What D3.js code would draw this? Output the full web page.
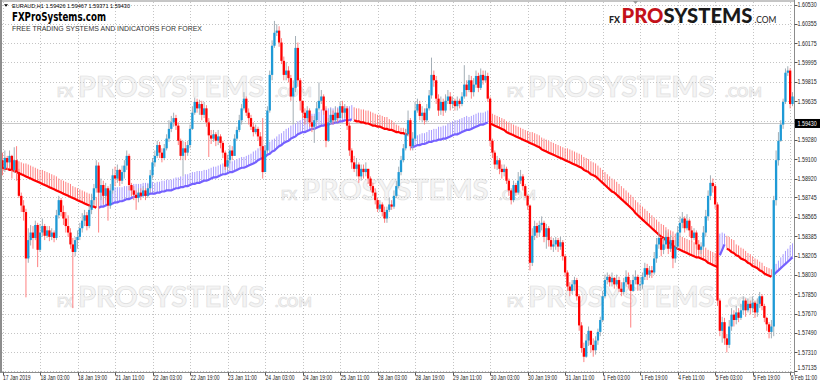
<!DOCTYPE html>
<html>
<head>
<meta charset="utf-8">
<script src="https://cdn.jsdelivr.net/npm/d3@7"></script>
<style>
  body { margin: 0; background: #fff; }
  svg { display: block; }
</style>
</head>
<body>
<script>
const width = 820;
const height = 385;

// header of the MT4 window
const symbol = 'EURAUD,H1';
const lastQuote = ['1.59426', '1.59467', '1.59371', '1.59430'];
const currentPrice = 1.59430;

// price axis labels (right) and time axis labels (bottom, one every 16 bars)
const priceTicks = [1.60530, 1.60355, 1.60175, 1.59995, 1.59815, 1.59635, 1.59455, 1.59280, 1.59100, 1.58920,
  1.58745, 1.58565, 1.58385, 1.58205, 1.58030, 1.57850, 1.57670, 1.57490, 1.57310, 1.57135];
const timeLabels = ['17 Jan 2019', '18 Jan 03:00', '18 Jan 19:00', '21 Jan 11:00', '22 Jan 03:00', '22 Jan 19:00',
  '23 Jan 11:00', '24 Jan 03:00', '24 Jan 19:00', '25 Jan 11:00', '28 Jan 03:00', '28 Jan 19:00', '29 Jan 11:00',
  '30 Jan 03:00', '30 Jan 19:00', '31 Jan 11:00', '1 Feb 03:00', '1 Feb 19:00', '4 Feb 11:00', '5 Feb 03:00',
  '5 Feb 19:00', '6 Feb 11:00'];
const barsPerLabel = 16;

// H1 candles, 17 Jan 11:00 .. 6 Feb 13:00 (open = previous close)
const firstOpen = 1.5909;
const closes = [
  1.5901,1.5911,1.5907,1.5913,1.5900,1.5909,1.5898,1.5876,1.5867,1.5861,1.5818,1.5835,1.5842,1.5837,1.5849,1.5826,
  1.5842,1.5848,1.5839,1.5844,1.5838,1.5842,1.5837,1.5858,1.5872,1.5861,1.5855,1.5848,1.5842,1.5831,1.5824,1.5835,
  1.5838,1.5846,1.5853,1.5858,1.5848,1.5863,1.5872,1.5883,1.5904,1.5879,1.5886,1.5876,1.5883,1.5867,1.5881,1.5895,
  1.5892,1.5900,1.5890,1.5898,1.5904,1.5913,1.5886,1.5881,1.5877,1.5874,1.5879,1.5876,1.5881,1.5876,1.5883,1.5895,
  1.5907,1.5913,1.5923,1.5916,1.5911,1.5920,1.5929,1.5938,1.5944,1.5948,1.5941,1.5927,1.5913,1.5920,1.5916,1.5923,
  1.5938,1.5953,1.5963,1.5957,1.5961,1.5951,1.5957,1.5944,1.5932,1.5929,1.5933,1.5927,1.5931,1.5925,1.5916,1.5903,
  1.5909,1.5918,1.5913,1.5929,1.5937,1.5946,1.5957,1.5966,1.5953,1.5948,1.5940,1.5935,1.5938,1.5931,1.5922,1.5898,
  1.5918,1.5955,1.5988,1.6015,1.6027,1.6029,1.6018,1.6001,1.5988,1.5992,1.5985,1.5968,1.5976,1.6013,1.5983,1.5964,
  1.5953,1.5948,1.5955,1.5944,1.5940,1.5946,1.5957,1.5964,1.5968,1.5955,1.5927,1.5944,1.5951,1.5946,1.5953,1.5948,
  1.5959,1.5953,1.5957,1.5941,1.5918,1.5907,1.5901,1.5905,1.5894,1.5901,1.5898,1.5901,1.5892,1.5885,1.5879,1.5872,
  1.5864,1.5868,1.5861,1.5855,1.5863,1.5868,1.5866,1.5876,1.5885,1.5898,1.5909,1.5920,1.5933,1.5946,1.5922,1.5929,
  1.5955,1.5961,1.5950,1.5953,1.5946,1.5957,1.5969,1.5988,1.5983,1.5966,1.5955,1.5963,1.5955,1.5964,1.5968,1.5961,
  1.5964,1.5959,1.5964,1.5961,1.5968,1.5979,1.5974,1.5983,1.5972,1.5979,1.5987,1.5976,1.5988,1.5983,1.5987,1.5966,
  1.5927,1.5916,1.5905,1.5909,1.5901,1.5898,1.5901,1.5890,1.5881,1.5872,1.5886,1.5879,1.5890,1.5894,1.5885,1.5876,
  1.5867,1.5814,1.5839,1.5848,1.5842,1.5849,1.5851,1.5838,1.5846,1.5835,1.5829,1.5831,1.5835,1.5829,1.5833,1.5820,
  1.5805,1.5792,1.5788,1.5794,1.5798,1.5783,1.5756,1.5735,1.5727,1.5742,1.5751,1.5738,1.5733,1.5742,1.5750,1.5761,
  1.5783,1.5798,1.5801,1.5796,1.5800,1.5794,1.5798,1.5790,1.5787,1.5796,1.5801,1.5794,1.5788,1.5798,1.5801,1.5794,
  1.5794,1.5801,1.5809,1.5803,1.5807,1.5805,1.5818,1.5831,1.5837,1.5826,1.5831,1.5838,1.5827,1.5835,1.5818,1.5829,
  1.5842,1.5851,1.5855,1.5846,1.5853,1.5844,1.5837,1.5842,1.5831,1.5826,1.5829,1.5842,1.5857,1.5876,1.5888,1.5885,
  1.5868,1.5779,1.5751,1.5759,1.5744,1.5738,1.5755,1.5766,1.5761,1.5768,1.5763,1.5770,1.5779,1.5770,1.5776,1.5772,
  1.5777,1.5768,1.5776,1.5783,1.5774,1.5763,1.5757,1.5750,1.5755,1.5872,1.5909,1.5927,1.5942,1.5963,1.5990,1.5992,
  1.5961,1.5968
];
const highs = [
  1.5916,1.5918,1.5913,1.5918,1.5914,1.5921,1.5922,1.5901,1.5879,1.5872,1.5864,1.5846,1.5849,1.5848,1.5853,1.5851,
  1.5850,1.5855,1.5850,1.5848,1.5848,1.5846,1.5844,1.5863,1.5876,1.5874,1.5867,1.5861,1.5858,1.5846,1.5837,1.5838,
  1.5844,1.5851,1.5860,1.5863,1.5861,1.5867,1.5878,1.5887,1.5909,1.5907,1.5892,1.5890,1.5888,1.5885,1.5887,1.5901,
  1.5903,1.5905,1.5901,1.5904,1.5909,1.5918,1.5915,1.5888,1.5885,1.5881,1.5883,1.5883,1.5885,1.5883,1.5887,1.5900,
  1.5911,1.5918,1.5927,1.5926,1.5920,1.5924,1.5933,1.5946,1.5950,1.5953,1.5951,1.5944,1.5929,1.5927,1.5926,1.5927,
  1.5942,1.5959,1.5967,1.5966,1.5965,1.5964,1.5963,1.5960,1.5948,1.5937,1.5937,1.5935,1.5937,1.5933,1.5927,1.5918,
  1.5914,1.5923,1.5922,1.5933,1.5940,1.5951,1.5961,1.5972,1.5968,1.5957,1.5951,1.5944,1.5942,1.5940,1.5935,1.5948,
  1.5923,1.5959,1.5992,1.6020,1.6038,1.6035,1.6033,1.6022,1.6005,1.6000,1.5996,1.5988,1.5983,1.6024,1.6018,1.5985,
  1.5964,1.5957,1.5959,1.5957,1.5950,1.5950,1.5963,1.5981,1.5974,1.5970,1.5959,1.5948,1.5957,1.5955,1.5959,1.5957,
  1.5963,1.5964,1.5961,1.5959,1.5944,1.5920,1.5913,1.5911,1.5907,1.5905,1.5905,1.5907,1.5901,1.5894,1.5888,1.5883,
  1.5874,1.5872,1.5870,1.5866,1.5866,1.5874,1.5872,1.5881,1.5890,1.5903,1.5913,1.5924,1.5938,1.5955,1.5948,1.5935,
  1.5963,1.5966,1.5964,1.5959,1.5957,1.5961,1.5974,1.6004,1.5992,1.5987,1.5970,1.5968,1.5966,1.5970,1.5974,1.5972,
  1.5968,1.5966,1.5968,1.5966,1.5972,1.5997,1.5983,1.5988,1.5987,1.5985,1.5992,1.5990,1.5994,1.5992,1.5992,1.5990,
  1.5968,1.5929,1.5918,1.5913,1.5911,1.5905,1.5905,1.5903,1.5892,1.5883,1.5890,1.5888,1.5898,1.5900,1.5896,1.5887,
  1.5877,1.5868,1.5846,1.5853,1.5851,1.5853,1.5857,1.5853,1.5850,1.5848,1.5838,1.5837,1.5838,1.5837,1.5838,1.5835,
  1.5822,1.5807,1.5796,1.5798,1.5801,1.5800,1.5785,1.5759,1.5740,1.5748,1.5755,1.5751,1.5744,1.5746,1.5753,1.5764,
  1.5788,1.5803,1.5805,1.5803,1.5805,1.5801,1.5803,1.5801,1.5796,1.5800,1.5807,1.5805,1.5798,1.5803,1.5807,1.5803,
  1.5801,1.5805,1.5814,1.5813,1.5811,1.5811,1.5824,1.5837,1.5842,1.5838,1.5837,1.5844,1.5842,1.5840,1.5838,1.5835,
  1.5848,1.5857,1.5861,1.5857,1.5859,1.5855,1.5848,1.5846,1.5844,1.5835,1.5833,1.5848,1.5863,1.5881,1.5895,1.5892,
  1.5887,1.5870,1.5781,1.5764,1.5763,1.5748,1.5761,1.5772,1.5770,1.5774,1.5772,1.5776,1.5783,1.5781,1.5781,1.5779,
  1.5783,1.5779,1.5781,1.5787,1.5785,1.5776,1.5764,1.5759,1.5761,1.5876,1.5918,1.5935,1.5946,1.5966,1.5994,1.5996,
  1.5994,1.5972
];
const lows = [
  1.5895,1.5898,1.5900,1.5903,1.5892,1.5897,1.5890,1.5874,1.5861,1.5853,1.5782,1.5814,1.5830,1.5827,1.5835,1.5810,
  1.5824,1.5838,1.5835,1.5837,1.5834,1.5835,1.5833,1.5835,1.5855,1.5857,1.5849,1.5842,1.5838,1.5827,1.5772,1.5820,
  1.5827,1.5835,1.5842,1.5848,1.5844,1.5846,1.5859,1.5868,1.5879,1.5842,1.5872,1.5868,1.5872,1.5853,1.5864,1.5878,
  1.5885,1.5888,1.5885,1.5887,1.5892,1.5900,1.5881,1.5876,1.5872,1.5863,1.5870,1.5872,1.5874,1.5872,1.5874,1.5879,
  1.5892,1.5903,1.5911,1.5911,1.5907,1.5909,1.5918,1.5926,1.5935,1.5940,1.5937,1.5923,1.5909,1.5894,1.5909,1.5913,
  1.5920,1.5937,1.5951,1.5953,1.5951,1.5946,1.5948,1.5940,1.5912,1.5924,1.5926,1.5922,1.5923,1.5920,1.5911,1.5900,
  1.5900,1.5906,1.5909,1.5913,1.5927,1.5935,1.5942,1.5955,1.5950,1.5942,1.5937,1.5931,1.5933,1.5927,1.5918,1.5892,
  1.5898,1.5916,1.5953,1.5983,1.6013,1.6024,1.6014,1.5998,1.5983,1.5983,1.5981,1.5964,1.5942,1.5972,1.5977,1.5955,
  1.5948,1.5942,1.5944,1.5940,1.5935,1.5925,1.5944,1.5955,1.5961,1.5951,1.5921,1.5926,1.5942,1.5942,1.5944,1.5944,
  1.5950,1.5948,1.5948,1.5937,1.5913,1.5901,1.5898,1.5894,1.5888,1.5890,1.5892,1.5894,1.5887,1.5881,1.5876,1.5868,
  1.5861,1.5861,1.5857,1.5851,1.5851,1.5861,1.5863,1.5864,1.5874,1.5883,1.5895,1.5907,1.5918,1.5931,1.5918,1.5918,
  1.5927,1.5953,1.5946,1.5944,1.5942,1.5944,1.5955,1.5966,1.5977,1.5961,1.5950,1.5951,1.5950,1.5953,1.5961,1.5955,
  1.5957,1.5955,1.5955,1.5957,1.5959,1.5966,1.5968,1.5972,1.5966,1.5968,1.5976,1.5972,1.5974,1.5979,1.5981,1.5963,
  1.5922,1.5911,1.5901,1.5900,1.5896,1.5892,1.5894,1.5887,1.5876,1.5868,1.5870,1.5876,1.5877,1.5887,1.5881,1.5874,
  1.5863,1.5807,1.5811,1.5835,1.5837,1.5838,1.5844,1.5833,1.5827,1.5829,1.5826,1.5824,1.5826,1.5824,1.5826,1.5816,
  1.5801,1.5788,1.5783,1.5785,1.5788,1.5779,1.5751,1.5731,1.5722,1.5726,1.5737,1.5731,1.5727,1.5729,1.5738,1.5746,
  1.5759,1.5781,1.5794,1.5792,1.5792,1.5790,1.5792,1.5787,1.5783,1.5785,1.5792,1.5790,1.5754,1.5787,1.5794,1.5788,
  1.5788,1.5790,1.5798,1.5798,1.5800,1.5800,1.5803,1.5814,1.5827,1.5820,1.5822,1.5827,1.5822,1.5824,1.5809,1.5814,
  1.5827,1.5838,1.5846,1.5842,1.5844,1.5838,1.5833,1.5835,1.5827,1.5822,1.5822,1.5826,1.5838,1.5853,1.5872,1.5879,
  1.5864,1.5774,1.5746,1.5740,1.5738,1.5731,1.5735,1.5751,1.5755,1.5757,1.5759,1.5761,1.5766,1.5764,1.5768,1.5766,
  1.5768,1.5763,1.5764,1.5772,1.5770,1.5759,1.5751,1.5744,1.5744,1.5746,1.5867,1.5904,1.5926,1.5938,1.5961,1.5987,
  1.5957,1.5959
];

// smoothed trend ribbon: thick line (maLow), hatch up to maHigh, colour by direction
const maLow = [
  1.5902,1.5901,1.5901,1.5900,1.5900,1.5899,1.5898,1.5897,1.5896,1.5895,1.5894,1.5893,1.5892,1.5891,1.5890,1.5889,
  1.5888,1.5887,1.5886,1.5885,1.5884,1.5883,1.5882,1.5881,1.5880,1.5879,1.5878,1.5877,1.5876,1.5875,1.5874,1.5873,
  1.5872,1.5871,1.5870,1.5869,1.5868,1.5867,1.5866,1.5866,1.5865,1.5865,1.5866,1.5866,1.5867,1.5868,1.5868,1.5869,
  1.5870,1.5870,1.5871,1.5871,1.5872,1.5873,1.5873,1.5874,1.5875,1.5875,1.5876,1.5876,1.5877,1.5877,1.5877,1.5878,
  1.5878,1.5878,1.5879,1.5879,1.5880,1.5880,1.5881,1.5881,1.5881,1.5882,1.5883,1.5883,1.5884,1.5884,1.5885,1.5885,
  1.5886,1.5887,1.5887,1.5888,1.5888,1.5889,1.5890,1.5890,1.5891,1.5892,1.5893,1.5893,1.5894,1.5895,1.5896,1.5896,
  1.5897,1.5898,1.5898,1.5899,1.5900,1.5901,1.5902,1.5902,1.5903,1.5904,1.5905,1.5906,1.5907,1.5909,1.5910,1.5911,
  1.5912,1.5914,1.5915,1.5917,1.5918,1.5920,1.5922,1.5923,1.5925,1.5926,1.5927,1.5929,1.5930,1.5931,1.5933,1.5934,
  1.5935,1.5935,1.5936,1.5937,1.5938,1.5938,1.5939,1.5940,1.5941,1.5941,1.5942,1.5942,1.5943,1.5943,1.5944,1.5944,
  1.5945,1.5945,1.5946,1.5946,1.5946,1.5947,1.5946,1.5945,1.5945,1.5944,1.5944,1.5943,1.5943,1.5942,1.5941,1.5941,
  1.5940,1.5940,1.5939,1.5938,1.5938,1.5937,1.5937,1.5936,1.5935,1.5935,1.5934,1.5934,1.5933,1.5933,1.5921,1.5921,
  1.5922,1.5923,1.5923,1.5924,1.5924,1.5925,1.5926,1.5926,1.5927,1.5927,1.5928,1.5928,1.5929,1.5929,1.5930,1.5931,
  1.5932,1.5933,1.5933,1.5934,1.5935,1.5936,1.5937,1.5937,1.5938,1.5939,1.5940,1.5941,1.5942,1.5942,1.5943,1.5944,
  1.5943,1.5942,1.5941,1.5940,1.5939,1.5938,1.5937,1.5935,1.5934,1.5933,1.5932,1.5931,1.5930,1.5929,1.5928,1.5927,
  1.5926,1.5925,1.5924,1.5923,1.5922,1.5921,1.5919,1.5918,1.5917,1.5916,1.5915,1.5914,1.5913,1.5912,1.5911,1.5910,
  1.5909,1.5908,1.5907,1.5906,1.5905,1.5904,1.5903,1.5902,1.5900,1.5899,1.5898,1.5896,1.5895,1.5894,1.5892,1.5890,
  1.5888,1.5886,1.5884,1.5882,1.5880,1.5879,1.5877,1.5875,1.5873,1.5871,1.5869,1.5867,1.5865,1.5863,1.5860,1.5858,
  1.5856,1.5854,1.5852,1.5850,1.5848,1.5846,1.5844,1.5842,1.5840,1.5838,1.5837,1.5835,1.5833,1.5832,1.5830,1.5828,
  1.5827,1.5826,1.5825,1.5824,1.5823,1.5822,1.5821,1.5820,1.5819,1.5819,1.5818,1.5817,1.5816,1.5814,1.5813,1.5812,
  1.5811,1.5810,1.5821,1.5826,1.5831,1.5827,1.5826,1.5824,1.5823,1.5821,1.5820,1.5818,1.5817,1.5816,1.5814,1.5813,
  1.5811,1.5810,1.5809,1.5807,1.5806,1.5804,1.5803,1.5802,1.5801,1.5803,1.5805,1.5807,1.5809,1.5811,1.5813,1.5815,
  1.5817,1.5819
];
const maHigh = [
  1.5912,1.5912,1.5911,1.5911,1.5910,1.5910,1.5909,1.5908,1.5907,1.5906,1.5906,1.5905,1.5904,1.5903,1.5902,1.5901,
  1.5900,1.5900,1.5899,1.5898,1.5897,1.5896,1.5895,1.5894,1.5892,1.5891,1.5890,1.5889,1.5888,1.5887,1.5885,1.5884,
  1.5883,1.5882,1.5881,1.5880,1.5879,1.5878,1.5877,1.5876,1.5875,1.5881,1.5882,1.5882,1.5882,1.5883,1.5883,1.5883,
  1.5884,1.5884,1.5884,1.5884,1.5885,1.5885,1.5885,1.5886,1.5887,1.5887,1.5887,1.5887,1.5888,1.5888,1.5888,1.5889,
  1.5889,1.5888,1.5889,1.5889,1.5890,1.5890,1.5891,1.5891,1.5891,1.5892,1.5893,1.5893,1.5894,1.5894,1.5896,1.5896,
  1.5897,1.5898,1.5898,1.5899,1.5899,1.5899,1.5900,1.5900,1.5901,1.5902,1.5903,1.5903,1.5904,1.5905,1.5906,1.5906,
  1.5907,1.5908,1.5908,1.5909,1.5910,1.5911,1.5912,1.5912,1.5913,1.5914,1.5915,1.5917,1.5918,1.5920,1.5921,1.5922,
  1.5923,1.5925,1.5926,1.5928,1.5929,1.5931,1.5933,1.5934,1.5936,1.5938,1.5939,1.5941,1.5942,1.5943,1.5945,1.5946,
  1.5948,1.5948,1.5949,1.5950,1.5952,1.5952,1.5953,1.5954,1.5956,1.5956,1.5957,1.5957,1.5958,1.5957,1.5958,1.5958,
  1.5959,1.5958,1.5959,1.5959,1.5959,1.5960,1.5958,1.5957,1.5957,1.5956,1.5956,1.5955,1.5955,1.5954,1.5953,1.5952,
  1.5951,1.5951,1.5950,1.5949,1.5949,1.5947,1.5946,1.5944,1.5942,1.5941,1.5939,1.5939,1.5938,1.5938,1.5930,1.5930,
  1.5931,1.5932,1.5933,1.5934,1.5934,1.5935,1.5937,1.5937,1.5938,1.5938,1.5940,1.5940,1.5941,1.5941,1.5943,1.5944,
  1.5945,1.5946,1.5946,1.5947,1.5948,1.5949,1.5950,1.5949,1.5950,1.5951,1.5952,1.5953,1.5953,1.5953,1.5954,1.5955,
  1.5953,1.5952,1.5951,1.5950,1.5949,1.5948,1.5947,1.5945,1.5944,1.5943,1.5942,1.5941,1.5940,1.5939,1.5938,1.5937,
  1.5936,1.5935,1.5935,1.5934,1.5933,1.5932,1.5930,1.5929,1.5928,1.5927,1.5926,1.5925,1.5924,1.5923,1.5922,1.5921,
  1.5920,1.5920,1.5919,1.5918,1.5917,1.5916,1.5915,1.5914,1.5912,1.5911,1.5910,1.5908,1.5907,1.5906,1.5904,1.5902,
  1.5900,1.5898,1.5896,1.5894,1.5892,1.5891,1.5889,1.5887,1.5885,1.5883,1.5881,1.5879,1.5877,1.5875,1.5872,1.5870,
  1.5868,1.5866,1.5864,1.5862,1.5860,1.5858,1.5856,1.5854,1.5852,1.5850,1.5849,1.5847,1.5845,1.5844,1.5843,1.5841,
  1.5840,1.5839,1.5838,1.5837,1.5836,1.5835,1.5834,1.5833,1.5831,1.5831,1.5830,1.5829,1.5828,1.5826,1.5825,1.5824,
  1.5823,1.5822,1.5841,1.5842,1.5841,1.5839,1.5838,1.5836,1.5835,1.5831,1.5830,1.5828,1.5827,1.5825,1.5823,1.5822,
  1.5820,1.5818,1.5817,1.5815,1.5814,1.5811,1.5810,1.5809,1.5808,1.5809,1.5813,1.5816,1.5819,1.5822,1.5825,1.5827,
  1.5830,1.5832
];
// bar index where the ribbon changes direction
const maTurns = [[0, 'down'], [41, 'up'], [150, 'down'], [174, 'up'], [208, 'down'], [306, 'up'], [309, 'down'], [329, 'up']];

const svg = d3.select('body').append('svg').attr('width', width).attr('height', height)
    .style('font-family', '"Liberation Sans", Arial, sans-serif');

svg.append('rect').attr('width', width).attr('height', height).attr('fill', '#fff');

const x = d3.scaleLinear().domain([0, closes.length - 1]).range([2.5, 792.5]);
const y = d3.scaleLinear().domain(d3.extent(priceTicks)).range([371.3, 4.7]);

const plotRight = 794.5;
const plotBottom = 372.5;

// faint watermark tiles: small FX, big PROSYSTEMS, small .COM
const tiles = [[57, 97], [507, 97], [281, 200], [57, 307], [507, 307]];
const wm = svg.append('g')
    .attr('font-family', 'Lato, "Open Sans", sans-serif')
    .attr('font-weight', 700)
    .attr('fill', '#f4f4f4')
    .attr('stroke', '#e0e0e0')
    .attr('stroke-width', 0.7);
tiles.forEach(([tx, ty]) => {
    wm.append('text').attr('x', tx).attr('y', ty).attr('font-size', 13).text('FX');
    wm.append('text').attr('x', tx + 21).attr('y', ty).attr('font-size', 29).text('PROSYSTEMS');
    wm.append('text').attr('x', tx + 218).attr('y', ty).attr('font-size', 14).text('.COM');
});

// dotted grid
const gridX = timeLabels.map((_, i) => i * barsPerLabel);
const grid = svg.append('g').attr('stroke', '#c4c4c4').attr('stroke-dasharray', '1,2');
grid.selectAll('.gh').data(priceTicks).join('line')
    .attr('x1', 2).attr('x2', plotRight)
    .attr('y1', d => Math.round(y(d)) + 0.5).attr('y2', d => Math.round(y(d)) + 0.5);
grid.selectAll('.gv').data(gridX).join('line')
    .attr('x1', d => Math.round(x(d)) + 0.5).attr('x2', d => Math.round(x(d)) + 0.5)
    .attr('y1', 2).attr('y2', plotBottom);

// bid line
const yc = y(currentPrice);
svg.append('line')
    .attr('x1', 2).attr('x2', plotRight)
    .attr('y1', yc).attr('y2', yc)
    .attr('stroke', '#c8c8c8').attr('stroke-width', 1);

// ribbon
const trendAt = closes.map((_, i) => {
    let t = maTurns[0][1];
    maTurns.forEach(([start, dir]) => { if (i >= start) t = dir; });
    return t;
});
const hatchColor = { down: '#ff8282', up: '#a99cff' };
const lineColor = { down: '#ff0000', up: '#7561ff' };

svg.append('g').selectAll('line').data(d3.range(closes.length)).join('line')
    .attr('x1', i => x(i)).attr('x2', i => x(i))
    .attr('y1', i => y(maLow[i])).attr('y2', i => y(maHigh[i]))
    .attr('stroke', i => hatchColor[trendAt[i]]).attr('stroke-width', 1);

const segments = maTurns.map((t, k) => ({
    dir: t[1],
    bars: d3.range(t[0], k + 1 < maTurns.length ? maTurns[k + 1][0] : closes.length)
}));
const maLine = d3.line().x(i => x(i)).y(i => y(maLow[i]));
svg.append('g').selectAll('path').data(segments).join('path')
    .attr('d', d => maLine(d.bars))
    .attr('fill', 'none')
    .attr('stroke', d => lineColor[d.dir])
    .attr('stroke-width', 2.2);

// candles
const candles = closes.map((c, i) => {
    const o = i === 0 ? firstOpen : closes[i - 1];
    return { i, o, c, h: Math.max(highs[i], o, c), l: Math.min(lows[i], o, c), up: c >= o };
});
const cg = svg.append('g');
cg.selectAll('line').data(candles).join('line')
    .attr('x1', d => x(d.i)).attr('x2', d => x(d.i))
    .attr('y1', d => y(d.h)).attr('y2', d => y(d.l))
    .attr('stroke', d => d.up ? '#a3aeb6' : '#ff8080').attr('stroke-width', 1);
cg.selectAll('rect').data(candles).join('rect')
    .attr('x', d => x(d.i) - 1.15)
    .attr('width', 2.3)
    .attr('y', d => y(Math.max(d.o, d.c)))
    .attr('height', d => Math.max(1, Math.abs(y(d.o) - y(d.c))))
    .attr('fill', d => d.up ? '#1e9ad6' : '#ff0000');

// frame
const frame = svg.append('g').attr('stroke', '#8c8c8c').attr('fill', 'none');
frame.append('line').attr('x1', 0).attr('x2', plotRight).attr('y1', 1).attr('y2', 1);
frame.append('line').attr('x1', 1).attr('x2', 1).attr('y1', 0).attr('y2', plotBottom).attr('stroke-width', 2);
frame.append('line').attr('x1', plotRight).attr('x2', plotRight).attr('y1', 0).attr('y2', plotBottom + 3);
frame.append('line').attr('x1', 0).attr('x2', plotRight).attr('y1', plotBottom).attr('y2', plotBottom);

// price axis (the label under the bid tag stays hidden, as in the terminal)
const pa = svg.append('g');
pa.selectAll('line').data(priceTicks).join('line')
    .attr('x1', plotRight).attr('x2', plotRight + 3)
    .attr('y1', d => Math.round(y(d)) + 0.5).attr('y2', d => Math.round(y(d)) + 0.5)
    .attr('stroke', '#555');
pa.selectAll('text').data(priceTicks.filter(d => Math.abs(y(d) - yc) > 7)).join('text')
    .attr('transform', d => `translate(${plotRight + 3},${Math.min(y(d) + 2.5, 369.8)}) scale(0.76,1)`)
    .attr('font-size', 7).attr('fill', '#222')
    .text(d => d3.format('.5f')(d));

// time axis
const ta = svg.append('g');
ta.selectAll('line').data(gridX).join('line')
    .attr('x1', d => Math.round(x(d)) + 0.5).attr('x2', d => Math.round(x(d)) + 0.5)
    .attr('y1', plotBottom).attr('y2', plotBottom + 3)
    .attr('stroke', '#555');
ta.selectAll('text').data(timeLabels).join('text')
    .attr('transform', (d, i) => `translate(${x(gridX[i]) + 0.5},${380}) scale(0.72,1)`)
    .attr('font-size', 7).attr('fill', '#222')
    .text(d => d);

// current price tag
svg.append('rect').attr('x', plotRight + 0.5).attr('y', yc - 4.5).attr('width', width - plotRight).attr('height', 9)
    .attr('fill', '#000');
svg.append('text')
    .attr('transform', `translate(${plotRight + 3},${yc + 2.5}) scale(0.76,1)`)
    .attr('font-size', 7).attr('fill', '#fff')
    .text(d3.format('.5f')(currentPrice));

// top-left captions
svg.append('path').attr('d', 'M4,4.2 L8,4.2 L6,6.8 Z').attr('fill', '#000');
svg.append('text').attr('x', 12).attr('y', 7.6).attr('font-size', 5.6)
    .attr('textLength', 118).attr('lengthAdjust', 'spacingAndGlyphs').attr('fill', '#000')
    .text(`${symbol}  ${lastQuote.join(' ')}`);
svg.append('text').attr('x', 12).attr('y', 20.6)
    .attr('font-family', '"DejaVu Sans Condensed", "DejaVu Sans", sans-serif')
    .attr('font-weight', 700).attr('font-size', 11.8)
    .attr('textLength', 94).attr('lengthAdjust', 'spacingAndGlyphs').attr('fill', '#000')
    .text('FXProSystems.com');
svg.append('text').attr('x', 12).attr('y', 30.9).attr('font-size', 7.2)
    .attr('textLength', 190).attr('lengthAdjust', 'spacingAndGlyphs').attr('fill', '#333')
    .text('FREE TRADING SYSTEMS AND INDICATORS FOR FOREX');

// top-right logo, one text with coloured parts
const logo = svg.append('text').attr('x', 609).attr('y', 23.4)
    .attr('font-family', 'Lato, "Open Sans", sans-serif').attr('font-weight', 900);
logo.append('tspan').attr('font-size', 10).attr('textLength', 11).attr('lengthAdjust', 'spacingAndGlyphs')
    .attr('fill', '#222').text('FX');
logo.append('tspan').attr('dx', 1.5).attr('font-size', 21).attr('textLength', 42).attr('lengthAdjust', 'spacingAndGlyphs')
    .attr('fill', '#c4121a').text('PRO');
logo.append('tspan').attr('font-size', 21).attr('textLength', 89).attr('lengthAdjust', 'spacingAndGlyphs')
    .attr('fill', '#1a1a1a').text('SYSTEMS');
logo.append('tspan').attr('dx', 2).attr('font-size', 8.5).attr('font-weight', 400).attr('textLength', 22)
    .attr('lengthAdjust', 'spacingAndGlyphs').attr('fill', '#222').text('.COM');
// chart shift marker
svg.append('path').attr('d', 'M633,1 L638,1 L635.5,4 Z').attr('fill', '#999');
</script>
</body>
</html>
